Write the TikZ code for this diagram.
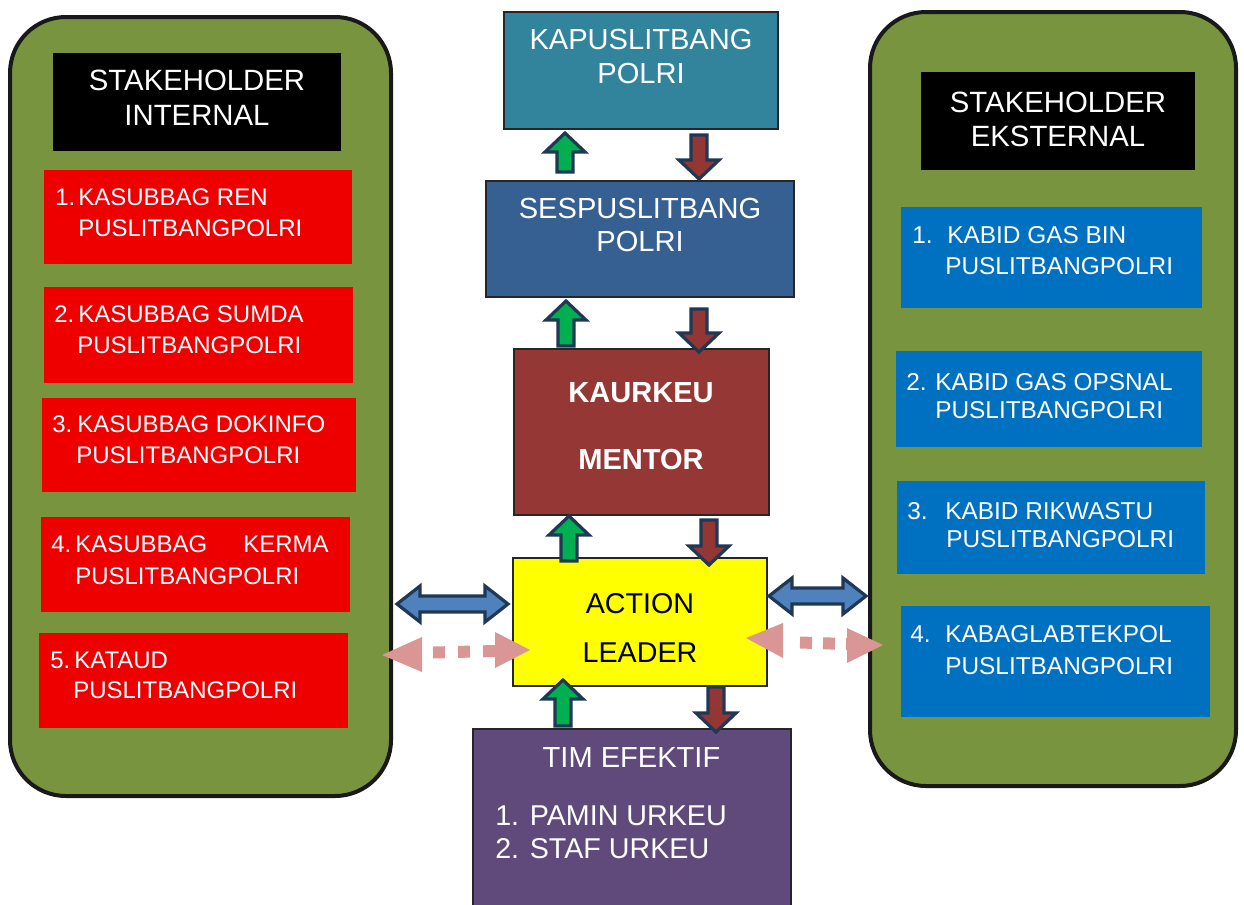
\documentclass[tikz,border=0pt]{standalone}
\usepackage{fontspec}
\setmainfont{Liberation Sans}
\usetikzlibrary{fit}
\definecolor{framegreen}{HTML}{78943E}
\definecolor{redbox}{HTML}{EE0000}
\definecolor{bluebox}{HTML}{0070C0}
\definecolor{tealbox}{HTML}{31849B}
\definecolor{sesbox}{HTML}{366092}
\definecolor{maroonbox}{HTML}{953735}
\definecolor{purplebox}{HTML}{604A7B}
\definecolor{yellowbox}{RGB}{255,255,0}
\definecolor{navyline}{HTML}{1F3856}
\definecolor{arrgreen}{HTML}{00B050}
\definecolor{arrred}{HTML}{943634}
\definecolor{arrblue}{HTML}{4F81BD}
\definecolor{arrpink}{HTML}{D99694}
\newcommand\blkup[4]{\draw[blk,fill=#4] (#1-8,#2) -- (#1-8,#3+19) -- (#1-20,#3+19) -- (#1,#3) -- (#1+20,#3+19) -- (#1+8,#3+19) -- (#1+8,#2) -- cycle;}
\newcommand\blkdown[4]{\draw[blk,fill=#4] (#1-8,#2) -- (#1-8,#3-19) -- (#1-20,#3-19) -- (#1,#3) -- (#1+20,#3-19) -- (#1+8,#3-19) -- (#1+8,#2) -- cycle;}
\newcommand\blkdbl[3]{\draw[blk,fill=arrblue] (#1,#3) -- (#1+23,#3-18) -- (#1+23,#3-8) -- (#2-23,#3-8) -- (#2-23,#3-18) -- (#2,#3) -- (#2-23,#3+18) -- (#2-23,#3+8) -- (#1+23,#3+8) -- (#1+23,#3+18) -- cycle;}
\begin{document}
\begin{tikzpicture}[x=0.75pt,y=-0.75pt,
  frame/.style={draw=black!90,line width=3pt,fill=framegreen,rounded corners=42pt,inner sep=0pt},
  plain/.style={inner sep=0pt,draw=none},
  cbox/.style={inner sep=0pt,draw=black!85,line width=1pt},
  rt/.style={inner sep=0pt,text=white,font=\fontsize{18}{21}\selectfont},
  bt/.style={inner sep=0pt,text=white,font=\fontsize{18.3}{21}\selectfont},
  ht/.style={inner sep=0pt,text=white,font=\fontsize{22}{26}\selectfont},
  ct/.style={inner sep=0pt,text=white,font=\fontsize{21.8}{26}\selectfont},
  blk/.style={draw=navyline,line width=2.4pt,line join=miter},
  pinkdot/.style={draw=arrpink,line width=9pt}]
\useasboundingbox (0,0) rectangle (1244,904);

% frames
\node[frame,fit={(10,17)(391,796)}] (leftframe) {};
\node[frame,fit={(870,12)(1236,786)}] (rightframe) {};

% headers
\node[plain,fill=black,fit={(53,53)(341,151)}] (inthead) {};
\node[ht,anchor=base] (inth1) at (197,90) {STAKEHOLDER};
\node[ht,anchor=base] (inth2) at (197,125) {INTERNAL};
\node[plain,fill=black,fit={(921,72)(1195,170)}] (exthead) {};
\node[ht,anchor=base] (exth1) at (1058,112) {STAKEHOLDER};
\node[ht,anchor=base] (exth2) at (1058,146) {EKSTERNAL};

% red boxes
\node[plain,fill=redbox,fit={(44,170)(352,264)}] (r1) {};
\node[plain,fill=redbox,fit={(44,287)(353,383)}] (r2) {};
\node[plain,fill=redbox,fit={(42,398)(356,492)}] (r3) {};
\node[plain,fill=redbox,fit={(41,517)(350,612)}] (r4) {};
\node[plain,fill=redbox,fit={(39,633)(348,728)}] (r5) {};
\node[rt,anchor=base west] (r1n) at (55,205) {1.};
\node[rt,anchor=base west] (r1a) at (78,205) {KASUBBAG REN};
\node[rt,anchor=base west] (r1b) at (78,236) {PUSLITBANGPOLRI};
\node[rt,anchor=base west] (r2n) at (54,322) {2.};
\node[rt,anchor=base west] (r2a) at (78,322) {KASUBBAG SUMDA};
\node[rt,anchor=base west] (r2b) at (77,353) {PUSLITBANGPOLRI};
\node[rt,anchor=base west] (r3n) at (52,432) {3.};
\node[rt,anchor=base west] (r3a) at (77,432) {KASUBBAG DOKINFO};
\node[rt,anchor=base west] (r3b) at (76,463) {PUSLITBANGPOLRI};
\node[rt,anchor=base west] (r4n) at (51,552) {4.};
\node[rt,anchor=base west] (r4a) at (75,552) {KASUBBAG};
\node[rt,anchor=base west] (r4c) at (243,552) {KERMA};
\node[rt,anchor=base west] (r4b) at (75,584) {PUSLITBANGPOLRI};
\node[rt,anchor=base west] (r5n) at (50,668) {5.};
\node[rt,anchor=base west] (r5a) at (74,668) {KATAUD};
\node[rt,anchor=base west] (r5b) at (73,698) {PUSLITBANGPOLRI};

% blue boxes
\node[plain,fill=bluebox,fit={(901,207)(1202,308)}] (b1) {};
\node[plain,fill=bluebox,fit={(896,351)(1202,447)}] (b2) {};
\node[plain,fill=bluebox,fit={(897,481)(1205,574)}] (b3) {};
\node[plain,fill=bluebox,fit={(901,606)(1210,717)}] (b4) {};
\node[bt,anchor=base west] (b1n) at (912,243) {1.};
\node[bt,anchor=base west] (b1a) at (947,243) {KABID GAS BIN};
\node[bt,anchor=base west] (b1b) at (945,274) {PUSLITBANGPOLRI};
\node[bt,anchor=base west] (b2n) at (906,390) {2.};
\node[bt,anchor=base west] (b2a) at (935,390) {KABID GAS OPSNAL};
\node[bt,anchor=base west] (b2b) at (935,418) {PUSLITBANGPOLRI};
\node[bt,anchor=base west] (b3n) at (907,519) {3.};
\node[bt,anchor=base west] (b3a) at (945,519) {KABID RIKWASTU};
\node[bt,anchor=base west] (b3b) at (946,547) {PUSLITBANGPOLRI};
\node[bt,anchor=base west] (b4n) at (910,642) {4.};
\node[bt,anchor=base west] (b4a) at (945,642) {KABAGLABTEKPOL};
\node[bt,anchor=base west] (b4b) at (945,674) {PUSLITBANGPOLRI};

% centre column
\node[cbox,fill=tealbox,fit={(504,12)(778,129)}] (kapus) {};
\node[ct,anchor=base] (kapus1) at (641,49) {KAPUSLITBANG};
\node[ct,anchor=base] (kapus2) at (641,83) {POLRI};
\node[cbox,fill=sesbox,fit={(486,181)(794,297)}] (ses) {};
\node[ct,anchor=base] (ses1) at (640,218) {SESPUSLITBANG};
\node[ct,anchor=base] (ses2) at (640,251) {POLRI};
\node[cbox,fill=maroonbox,fit={(514,349)(769,515)}] (kaur) {};
\node[ct,anchor=base,font=\fontsize{21.8}{26}\selectfont\bfseries] (kaur1) at (641,402) {KAURKEU};
\node[ct,anchor=base,font=\fontsize{21.8}{26}\selectfont\bfseries] (kaur2) at (641,469) {MENTOR};
\node[cbox,fill=yellowbox,fit={(513,558)(767,686)}] (action) {};
\node[ct,anchor=base,text=black,font=\fontsize{21.5}{26}\selectfont] (action1) at (640,613) {ACTION};
\node[ct,anchor=base,text=black,font=\fontsize{21.5}{26}\selectfont] (action2) at (640,662) {LEADER};
\node[cbox,fill=purplebox,fit={(473,729)(791,910)}] (tim) {};
\node[ct,anchor=base] (tim1) at (631.5,767) {TIM EFEKTIF};
\node[ct,anchor=base west,font=\fontsize{21.5}{26}\selectfont] (tim2) at (495,825) {1. PAMIN URKEU};
\node[ct,anchor=base west,font=\fontsize{21.5}{26}\selectfont] (tim3) at (495,858) {2. STAF URKEU};

% vertical block arrows
\blkup{565}{172}{133}{arrgreen}
\blkdown{699}{135}{179}{arrred}
\blkup{566}{346}{301}{arrgreen}
\blkdown{699}{309}{352}{arrred}
\blkup{569}{561}{516}{arrgreen}
\blkdown{709}{520}{565}{arrred}
\blkup{563}{726}{680}{arrgreen}
\blkdown{716}{687}{732}{arrred}

% horizontal double arrows
\blkdbl{397}{508}{604}
\blkdbl{769}{866}{596}

% dotted pink arrows
\fill[arrpink] (382,655) -- (422,637) -- (422,672) -- cycle;
\fill[arrpink] (530,650) -- (495,632) -- (495,668) -- cycle;
\draw[pinkdot,dash pattern=on 9pt off 9.75pt] (433,652.5) -- (495,651);
\fill[arrpink] (746,638) -- (783,623) -- (783,658) -- cycle;
\fill[arrpink] (883,645) -- (847,628) -- (847,663) -- cycle;
\draw[pinkdot,dash pattern=on 9pt off 8.25pt] (800,642.5) -- (847,644);
\end{tikzpicture}
\end{document}
